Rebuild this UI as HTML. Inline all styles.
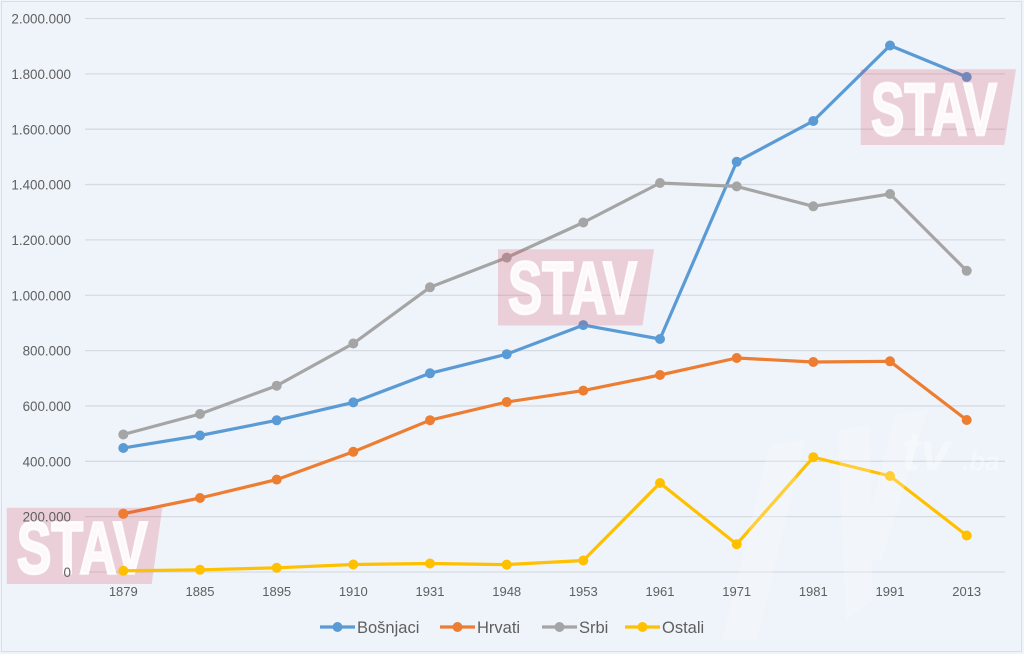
<!DOCTYPE html>
<html>
<head>
<meta charset="utf-8">
<style>
  html, body { margin: 0; padding: 0; background: #eff4fa; }
  svg { display: block; }
  text { font-family: "Liberation Sans", "DejaVu Sans", sans-serif; }
</style>
</head>
<body>
<svg width="1024" height="654" viewBox="0 0 1024 654" xmlns="http://www.w3.org/2000/svg">
  <rect x="0" y="0" width="1024" height="654" fill="#eff4fa"/>
  <rect x="1.5" y="1.5" width="1020" height="650" fill="none" stroke="#d9dee5" stroke-width="1"/>

  <!-- gridlines -->
  <g stroke="#d6dbe2" stroke-width="1.3">
    <line x1="85" y1="572" x2="1005" y2="572"/>
    <line x1="85" y1="516.65" x2="1005" y2="516.65"/>
    <line x1="85" y1="461.3" x2="1005" y2="461.3"/>
    <line x1="85" y1="405.95" x2="1005" y2="405.95"/>
    <line x1="85" y1="350.6" x2="1005" y2="350.6"/>
    <line x1="85" y1="295.25" x2="1005" y2="295.25"/>
    <line x1="85" y1="239.9" x2="1005" y2="239.9"/>
    <line x1="85" y1="184.55" x2="1005" y2="184.55"/>
    <line x1="85" y1="129.2" x2="1005" y2="129.2"/>
    <line x1="85" y1="73.85" x2="1005" y2="73.85"/>
    <line x1="85" y1="18.5" x2="1005" y2="18.5"/>
  </g>

  <!-- Bošnjaci -->
  <g fill="#5b9bd5">
    <polyline fill="none" stroke="#5b9bd5" stroke-width="3.2" stroke-linejoin="round" points="123.3,448 200,435.5 276.7,420.3 353.3,402.4 430,373.3 506.7,354.2 583.3,325.1 660,339 736.7,161.8 813.3,121 890,45.5 966.7,77"/>
    <circle cx="123.3" cy="448" r="5"/><circle cx="200" cy="435.5" r="5"/><circle cx="276.7" cy="420.3" r="5"/><circle cx="353.3" cy="402.4" r="5"/><circle cx="430" cy="373.3" r="5"/><circle cx="506.7" cy="354.2" r="5"/><circle cx="583.3" cy="325.1" r="5"/><circle cx="660" cy="339" r="5"/><circle cx="736.7" cy="161.8" r="5"/><circle cx="813.3" cy="121" r="5"/><circle cx="890" cy="45.5" r="5"/><circle cx="966.7" cy="77" r="5"/>
  </g>

  <!-- Hrvati -->
  <g fill="#ed7d31">
    <polyline fill="none" stroke="#ed7d31" stroke-width="3.2" stroke-linejoin="round" points="123.3,513.8 200,498 276.7,479.6 353.3,451.8 430,420.2 506.7,402 583.3,390.6 660,375 736.7,358 813.3,362 890,361.3 966.7,420"/>
    <circle cx="123.3" cy="513.8" r="5"/><circle cx="200" cy="498" r="5"/><circle cx="276.7" cy="479.6" r="5"/><circle cx="353.3" cy="451.8" r="5"/><circle cx="430" cy="420.2" r="5"/><circle cx="506.7" cy="402" r="5"/><circle cx="583.3" cy="390.6" r="5"/><circle cx="660" cy="375" r="5"/><circle cx="736.7" cy="358" r="5"/><circle cx="813.3" cy="362" r="5"/><circle cx="890" cy="361.3" r="5"/><circle cx="966.7" cy="420" r="5"/>
  </g>

  <!-- Srbi -->
  <g fill="#a5a5a5">
    <polyline fill="none" stroke="#a5a5a5" stroke-width="3.2" stroke-linejoin="round" points="123.3,434.5 200,414 276.7,385.7 353.3,343.5 430,287.3 506.7,257.6 583.3,222.5 660,183 736.7,186.4 813.3,206.3 890,194 966.7,270.8"/>
    <circle cx="123.3" cy="434.5" r="5"/><circle cx="200" cy="414" r="5"/><circle cx="276.7" cy="385.7" r="5"/><circle cx="353.3" cy="343.5" r="5"/><circle cx="430" cy="287.3" r="5"/><circle cx="506.7" cy="257.6" r="5"/><circle cx="583.3" cy="222.5" r="5"/><circle cx="660" cy="183" r="5"/><circle cx="736.7" cy="186.4" r="5"/><circle cx="813.3" cy="206.3" r="5"/><circle cx="890" cy="194" r="5"/><circle cx="966.7" cy="270.8" r="5"/>
  </g>

  <!-- STAV watermarks -->
  <g>
    <polygon points="860.7,69.3 1016,69.3 1004.3,145 860.7,145" fill="rgb(222,60,80)" fill-opacity="0.2"/>
    <text x="871" y="135" font-size="74" font-weight="bold" fill="#ffffff" fill-opacity="0.88" stroke="#ffffff" stroke-opacity="0.88" stroke-width="2.5" textLength="126" lengthAdjust="spacingAndGlyphs">STAV</text>

    <polygon points="498,249.3 654,249.3 642.5,325.5 498,325.5" fill="rgb(222,60,80)" fill-opacity="0.2"/>
    <text x="508" y="313.5" font-size="74" font-weight="bold" fill="#ffffff" fill-opacity="0.88" stroke="#ffffff" stroke-opacity="0.88" stroke-width="2.5" textLength="129" lengthAdjust="spacingAndGlyphs">STAV</text>

    <polygon points="6.7,507.7 162.3,507.7 151.7,584 6.7,584" fill="rgb(222,60,80)" fill-opacity="0.2"/>
    <text x="16.7" y="573.5" font-size="74" font-weight="bold" fill="#ffffff" fill-opacity="0.88" stroke="#ffffff" stroke-opacity="0.88" stroke-width="2.5" textLength="131" lengthAdjust="spacingAndGlyphs">STAV</text>
  </g>

  <!-- Ostali (drawn over bottom-left watermark) -->
  <g fill="#ffc000">
    <polyline fill="none" stroke="#ffc000" stroke-width="3.2" stroke-linejoin="round" points="123.3,570.8 200,569.8 276.7,567.8 353.3,564.5 430,563.5 506.7,564.6 583.3,560.5 660,483 736.7,544.2 813.3,457.2 890,476 966.7,535.5"/>
    <circle cx="123.3" cy="570.8" r="5"/><circle cx="200" cy="569.8" r="5"/><circle cx="276.7" cy="567.8" r="5"/><circle cx="353.3" cy="564.5" r="5"/><circle cx="430" cy="563.5" r="5"/><circle cx="506.7" cy="564.6" r="5"/><circle cx="583.3" cy="560.5" r="5"/><circle cx="660" cy="483" r="5"/><circle cx="736.7" cy="544.2" r="5"/><circle cx="813.3" cy="457.2" r="5"/><circle cx="890" cy="476" r="5"/><circle cx="966.7" cy="535.5" r="5"/>
  </g>
  <circle cx="123.3" cy="513.8" r="5" fill="#ed7d31"/>

  <!-- tv.ba faint watermark -->
  <g fill="#ffffff" opacity="0.22">
    <polygon points="770,445 805,440 757,640 722,640"/>
    <polygon points="838,430 870,425 872,600 846,620"/>
    <polygon points="895,415 928,410 882,560 858,560"/>
  </g>
  <text x="902" y="470" font-size="54" font-weight="bold" font-style="italic" fill="#ffffff" opacity="0.35">tv</text>
  <text x="962" y="470" font-size="26" font-weight="bold" font-style="italic" fill="#ffffff" opacity="0.35">.ba</text>

  <!-- y labels -->
  <g fill="#5f5f5f" font-size="13.4" text-anchor="end">
    <text x="71" y="577">0</text>
    <text x="71" y="521.6">200.000</text>
    <text x="71" y="466.3">400.000</text>
    <text x="71" y="411">600.000</text>
    <text x="71" y="355.6">800.000</text>
    <text x="71" y="300.3">1.000.000</text>
    <text x="71" y="245">1.200.000</text>
    <text x="71" y="189.6">1.400.000</text>
    <text x="71" y="134.3">1.600.000</text>
    <text x="71" y="79">1.800.000</text>
    <text x="71" y="23.6">2.000.000</text>
  </g>

  <!-- x labels -->
  <g fill="#5f5f5f" font-size="13" text-anchor="middle">
    <text x="123.3" y="596">1879</text>
    <text x="200" y="596">1885</text>
    <text x="276.7" y="596">1895</text>
    <text x="353.3" y="596">1910</text>
    <text x="430" y="596">1931</text>
    <text x="506.7" y="596">1948</text>
    <text x="583.3" y="596">1953</text>
    <text x="660" y="596">1961</text>
    <text x="736.7" y="596">1971</text>
    <text x="813.3" y="596">1981</text>
    <text x="890" y="596">1991</text>
    <text x="966.7" y="596">2013</text>
  </g>

  <!-- legend -->
  <g font-size="16.5" fill="#5f5f5f">
    <line x1="320" y1="627" x2="355" y2="627" stroke="#5b9bd5" stroke-width="3.2"/>
    <circle cx="337.5" cy="627" r="5" fill="#5b9bd5"/>
    <text x="357" y="633">Bošnjaci</text>

    <line x1="440" y1="627" x2="475" y2="627" stroke="#ed7d31" stroke-width="3.2"/>
    <circle cx="457.5" cy="627" r="5" fill="#ed7d31"/>
    <text x="477" y="633">Hrvati</text>

    <line x1="542" y1="627" x2="577" y2="627" stroke="#a5a5a5" stroke-width="3.2"/>
    <circle cx="559.5" cy="627" r="5" fill="#a5a5a5"/>
    <text x="579" y="633">Srbi</text>

    <line x1="625" y1="627" x2="660" y2="627" stroke="#ffc000" stroke-width="3.2"/>
    <circle cx="642.5" cy="627" r="5" fill="#ffc000"/>
    <text x="662" y="633">Ostali</text>
  </g>
</svg>
</body>
</html>
